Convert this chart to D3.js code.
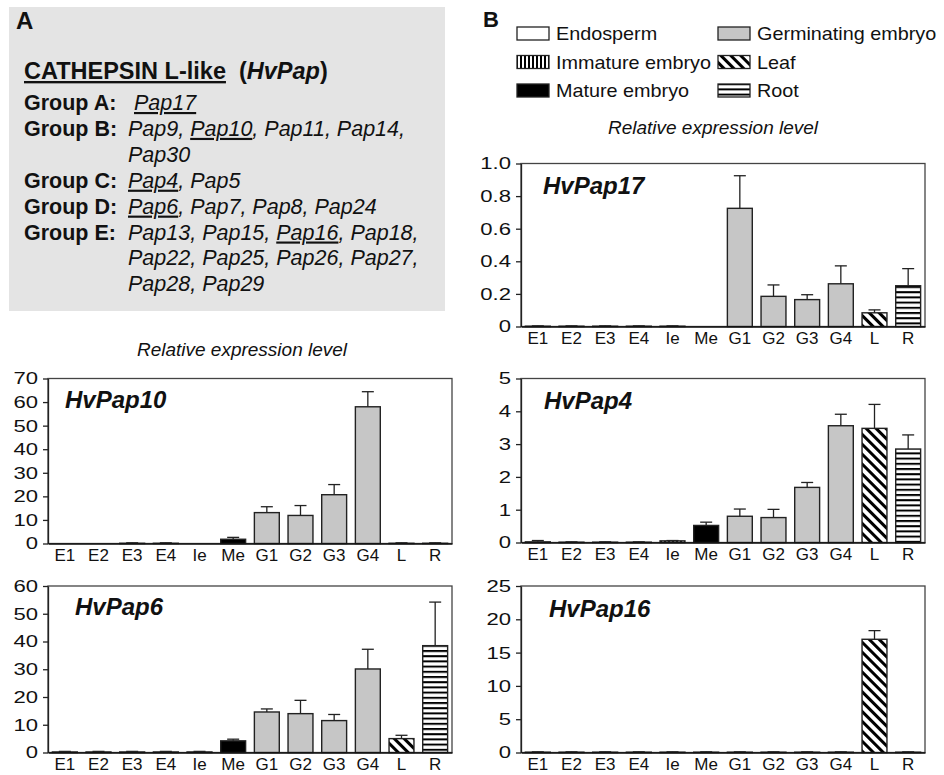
<!DOCTYPE html>
<html>
<head>
<meta charset="utf-8">
<script src="https://cdn.jsdelivr.net/npm/d3@7"></script>
<style>
  body { margin: 0; background: #fff; }
  text { font-family: "Liberation Sans", Arial, sans-serif; fill: #111; }
</style>
</head>
<body>
<svg id="fig" width="944" height="775"></svg>
<script>
// ---- data ----
const categories = ['E1', 'E2', 'E3', 'E4', 'Ie', 'Me', 'G1', 'G2', 'G3', 'G4', 'L', 'R'];
const tissues = ['endo', 'endo', 'endo', 'endo', 'imm', 'mat', 'germ', 'germ', 'germ', 'germ', 'leaf', 'root'];

const pap17Mean = [0.002, 0.002, 0.002, 0.002, 0.002, 0, 0.725, 0.185, 0.165, 0.262, 0.084, 0.25];
const pap17Err  = [0.002, 0.002, 0.002, 0.002, 0.002, 0, 0.2, 0.07, 0.03, 0.11, 0.018, 0.105];

const pap10Mean = [0, 0, 0.1, 0.1, 0, 1.8, 13.1, 11.9, 20.7, 58, 0.1, 0.1];
const pap10Err  = [0, 0, 0.2, 0.2, 0, 0.8, 2.5, 4.2, 4.3, 6.4, 0.2, 0.2];

const pap6Mean = [0.2, 0.2, 0.2, 0.2, 0.2, 4.2, 14.6, 14.0, 11.5, 30.1, 5.0, 38.5];
const pap6Err  = [0.2, 0.2, 0.2, 0.2, 0.2, 0.6, 1.1, 4.8, 2.2, 7.1, 1.2, 15.7];

const pap4Mean = [0.02, 0.01, 0.01, 0.01, 0.05, 0.52, 0.8, 0.76, 1.68, 3.56, 3.48, 2.85];
const pap4Err  = [0.04, 0.01, 0.01, 0.01, 0.01, 0.1, 0.22, 0.25, 0.15, 0.35, 0.73, 0.43];

const pap16Mean = [0.05, 0.05, 0.05, 0.05, 0.05, 0.05, 0.05, 0.05, 0.05, 0.05, 17.0, 0.05];
const pap16Err  = [0.05, 0.05, 0.05, 0.05, 0.05, 0.05, 0.05, 0.05, 0.05, 0.05, 1.3, 0.05];

const ticks17 = [0, 0.2, 0.4, 0.6, 0.8, 1.0];
const ticks10 = [0, 10, 20, 30, 40, 50, 60, 70];
const ticks6  = [0, 10, 20, 30, 40, 50, 60];
const ticks4  = [0, 1, 2, 3, 4, 5];
const ticks16 = [0, 5, 10, 15, 20, 25];

const legendNames  = ['Endosperm', 'Germinating embryo', 'Immature embryo', 'Leaf', 'Mature embryo', 'Root'];
const legendTissue = ['endo', 'germ', 'imm', 'leaf', 'mat', 'root'];

const groupLabels = ['Group A:', 'Group B:', '', 'Group C:', 'Group D:', 'Group E:', '', ''];
const groupGenes = [
  ['Pap17'],
  ['Pap9', 'Pap10', 'Pap11', 'Pap14'],
  ['Pap30'],
  ['Pap4', 'Pap5'],
  ['Pap6', 'Pap7', 'Pap8', 'Pap24'],
  ['Pap13', 'Pap15', 'Pap16', 'Pap18'],
  ['Pap22', 'Pap25', 'Pap26', 'Pap27'],
  ['Pap28', 'Pap29']
];
const shownGenes = ['Pap17', 'Pap10', 'Pap4', 'Pap6', 'Pap16'];

// ---- layout ----
const svg = d3.select('#fig');
const fills = { endo: '#fff', germ: '#c6c6c6', mat: '#000', imm: 'url(#vstripe)', leaf: 'url(#dstripe)', root: 'url(#hstripe)' };

const defs = svg.append('defs');
const dp = defs.append('pattern').attr('id', 'dstripe').attr('patternUnits', 'userSpaceOnUse')
  .attr('width', 7).attr('height', 10).attr('patternTransform', 'rotate(-45)');
dp.append('rect').attr('width', 7).attr('height', 10).attr('fill', '#fff');
dp.append('rect').attr('width', 3).attr('height', 10).attr('fill', '#000');
const hp = defs.append('pattern').attr('id', 'hstripe').attr('patternUnits', 'userSpaceOnUse')
  .attr('width', 10).attr('height', 5.2);
hp.append('rect').attr('width', 10).attr('height', 5.2).attr('fill', '#fff');
hp.append('rect').attr('width', 10).attr('height', 2).attr('fill', '#000');
const vp = defs.append('pattern').attr('id', 'vstripe').attr('patternUnits', 'userSpaceOnUse')
  .attr('width', 4).attr('height', 10);
vp.append('rect').attr('width', 4).attr('height', 10).attr('fill', '#fff');
vp.append('rect').attr('width', 2).attr('height', 10).attr('fill', '#000');

// panel A
svg.append('rect').attr('x', 9).attr('y', 7).attr('width', 436).attr('height', 304).attr('fill', '#e4e4e4');
svg.append('text').attr('x', 16).attr('y', 29).attr('font-size', 24).attr('font-weight', 'bold').text('A');
svg.append('text').attr('x', 470 + 13).attr('y', 27).attr('font-size', 22).attr('font-weight', 'bold').text('B');

const title = svg.append('text').attr('x', 24).attr('y', 79).attr('font-size', 23.5).attr('font-weight', 'bold');
title.append('tspan').style('text-decoration', 'underline').text('CATHEPSIN L-like');
const title2 = svg.append('text').attr('x', 239).attr('y', 79).attr('font-size', 23.5).attr('font-weight', 'bold');
title2.append('tspan').text('(');
title2.append('tspan').attr('font-style', 'italic').text('HvPap');
title2.append('tspan').text(')');

groupLabels.forEach((lab, i) => {
  const yb = 110 + i * 25.9;
  if (lab) svg.append('text').attr('x', 24).attr('y', yb).attr('font-size', 21.5).attr('font-weight', 'bold').text(lab);
  const t = svg.append('text').attr('x', i === 0 ? 134 : 128).attr('y', yb).attr('font-size', 21.5).attr('font-style', 'italic');
  const cont = i + 1 < groupLabels.length && groupLabels[i + 1] === '';
  groupGenes[i].forEach((g, j) => {
    t.append('tspan').style('text-decoration', shownGenes.includes(g) ? 'underline' : 'none').text(g);
    if (j < groupGenes[i].length - 1 || cont) t.append('tspan').text(j < groupGenes[i].length - 1 ? ', ' : ',');
  });
});

// legend
legendNames.forEach((name, i) => {
  const col = i % 2, row = Math.floor(i / 2);
  const bx = col ? 718 : 517, by = 27 + row * 28.5;
  svg.append('rect').attr('x', bx).attr('y', by).attr('width', 32).attr('height', 13)
    .attr('fill', fills[legendTissue[i]]).attr('stroke', '#222').attr('stroke-width', 1.3);
  svg.append('text').attr('transform', `translate(${bx + 39},${by + 13}) scale(1.1,1)`)
    .attr('font-size', 18).text(name);
});

svg.append('text').attr('x', 713).attr('y', 134).attr('text-anchor', 'middle')
  .attr('font-size', 19).attr('font-style', 'italic').text('Relative expression level');
svg.append('text').attr('x', 242).attr('y', 356).attr('text-anchor', 'middle')
  .attr('font-size', 19).attr('font-style', 'italic').text('Relative expression level');

const panels = [
  { name: 'HvPap17', mean: pap17Mean, err: pap17Err, ticks: ticks17, fmt: '.1f', x0: 521, x1: 925, y0: 163.5, y1: 326.5, lx: 22, ly: 30 },
  { name: 'HvPap10', mean: pap10Mean, err: pap10Err, ticks: ticks10, fmt: 'd', x0: 48, x1: 452, y0: 378.5, y1: 543.5, lx: 17, ly: 29 },
  { name: 'HvPap4', mean: pap4Mean, err: pap4Err, ticks: ticks4, fmt: 'd', x0: 521, x1: 925, y0: 378.5, y1: 542.5, lx: 23, ly: 30 },
  { name: 'HvPap6', mean: pap6Mean, err: pap6Err, ticks: ticks6, fmt: 'd', x0: 48, x1: 452, y0: 586, y1: 752.5, lx: 27, ly: 29 },
  { name: 'HvPap16', mean: pap16Mean, err: pap16Err, ticks: ticks16, fmt: 'd', x0: 521, x1: 925, y0: 586, y1: 752.5, lx: 28, ly: 31 }
];

panels.forEach(p => {
  const x = d3.scaleBand().domain(categories).range([p.x0, p.x1]).paddingInner(0.26).paddingOuter(0.13);
  const y = d3.scaleLinear().domain([0, d3.max(p.ticks)]).range([p.y1, p.y0]);
  const g = svg.append('g');
  const rows = categories.map((c, i) => ({ c: c, v: p.mean[i], e: p.err[i], t: tissues[i] }));

  g.append('rect').attr('x', p.x0).attr('y', p.y0).attr('width', p.x1 - p.x0).attr('height', p.y1 - p.y0)
    .attr('fill', 'none').attr('stroke', '#444').attr('stroke-width', 1.3);

  g.selectAll('rect.bar').data(rows.filter(d => d.v > 0)).enter().append('rect')
    .attr('class', 'bar')
    .attr('x', d => x(d.c)).attr('width', x.bandwidth())
    .attr('y', d => y(d.v)).attr('height', d => y(0) - y(d.v))
    .attr('fill', d => fills[d.t]).attr('stroke', '#222').attr('stroke-width', 1.4);

  const eb = g.selectAll('g.err').data(rows.filter(d => d.e > 0)).enter().append('g');
  eb.append('line')
    .attr('x1', d => x(d.c) + x.bandwidth() / 2).attr('x2', d => x(d.c) + x.bandwidth() / 2)
    .attr('y1', d => y(d.v)).attr('y2', d => y(d.v + d.e))
    .attr('stroke', '#222').attr('stroke-width', 1.3);
  eb.append('line')
    .attr('x1', d => x(d.c) + x.bandwidth() / 2 - 6).attr('x2', d => x(d.c) + x.bandwidth() / 2 + 6)
    .attr('y1', d => y(d.v + d.e)).attr('y2', d => y(d.v + d.e))
    .attr('stroke', '#222').attr('stroke-width', 1.3);

  const f = d3.format(p.fmt);
  const ya = g.append('g').attr('transform', `translate(${p.x0},0)`)
    .call(d3.axisLeft(y).tickValues(p.ticks).tickSize(5).tickSizeOuter(0).tickPadding(5)
      .tickFormat(d => d === 0 ? '0' : f(d)));
  ya.selectAll('path,line').attr('stroke', '#222').attr('stroke-width', 1.3);
  ya.selectAll('text').attr('font-size', 17).attr('font-family', '"Liberation Sans", Arial, sans-serif')
    .attr('fill', '#111').attr('x', -10 / 1.3).attr('transform', 'scale(1.3,1)');

  const xa = g.append('g').attr('transform', `translate(0,${p.y1})`)
    .call(d3.axisBottom(x).tickSize(0).tickSizeOuter(0).tickPadding(5.5));
  xa.select('.domain').attr('stroke', '#111').attr('stroke-width', 1.6);
  xa.selectAll('text').attr('font-size', 17).attr('font-family', '"Liberation Sans", Arial, sans-serif').attr('fill', '#111');

  g.append('text').attr('x', p.x0 + p.lx).attr('y', p.y0 + p.ly)
    .attr('font-size', 24).attr('font-weight', 'bold').attr('font-style', 'italic').text(p.name);
});
</script>
</body>
</html>
